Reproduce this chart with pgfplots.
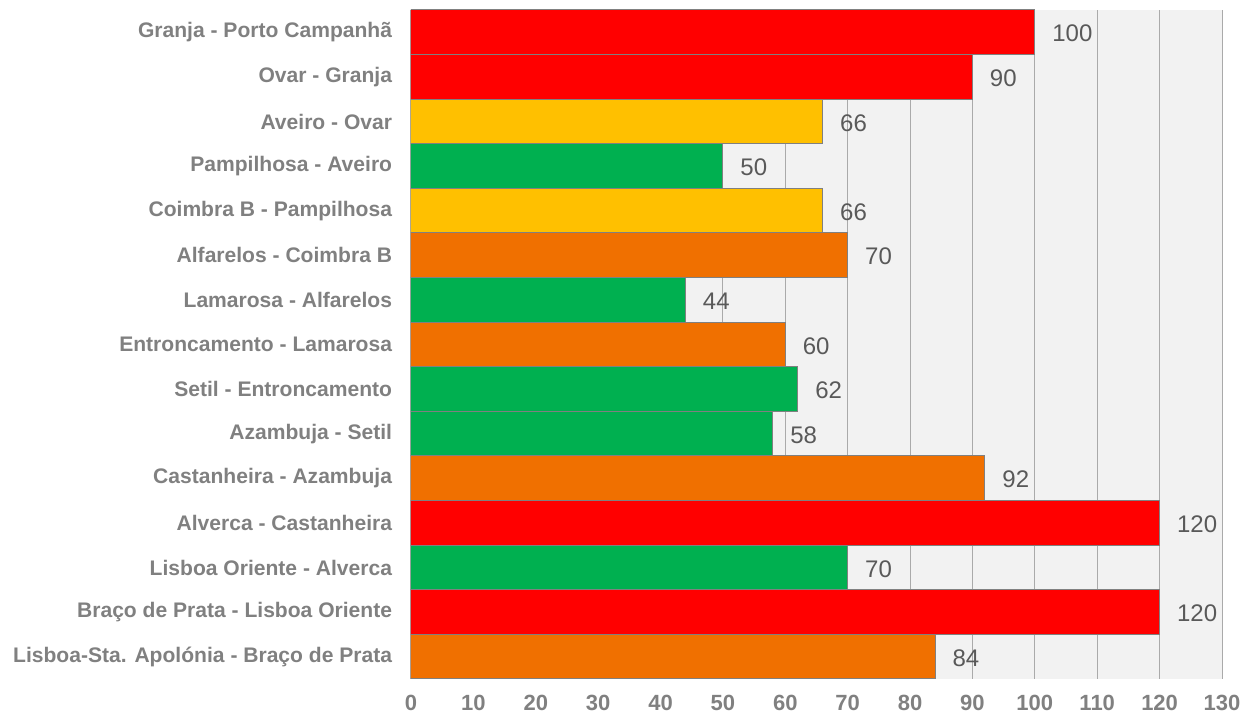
\documentclass[border=0pt]{standalone}
\usepackage{pgfplots}
\pgfplotsset{compat=1.18}
\usepackage{pgfplotstable}
\usepackage{fontspec}
\setmainfont{Liberation Sans}
\definecolor{cred}{RGB}{255,0,0}
\definecolor{cyellow}{RGB}{255,192,0}
\definecolor{cgreen}{RGB}{0,176,80}
\definecolor{corange}{RGB}{240,112,0}
\definecolor{cbg}{RGB}{242,242,242}
\definecolor{cgrid}{RGB}{170,170,170}
\definecolor{clab}{RGB}{128,128,128}
\definecolor{cval}{RGB}{89,89,89}
\definecolor{cedge}{RGB}{128,128,128}

\pgfplotstableread{
y x
14 100
13 90
3 120
1 120
}\redtab
\pgfplotstableread{
y x
12 66
10 66
}\yellowtab
\pgfplotstableread{
y x
11 50
8 44
6 62
5 58
2 70
}\greentab
\pgfplotstableread{
y x
9 70
7 60
4 92
0 84
}\orangetab

\begin{document}
\begin{tikzpicture}
\begin{axis}[
  scale only axis,
  width=608.25pt, height=501.75pt,
  xbar, bar width=1,
  xmin=0, xmax=130, ymin=-0.5, ymax=14.5,
  xtick={0,10,...,130},
  ytick={0,...,14},
  yticklabels={Lisboa-Sta. Apolónia - Braço de Prata, Braço de Prata - Lisboa Oriente, Lisboa Oriente - Alverca, Alverca - Castanheira, Castanheira - Azambuja, Azambuja - Setil, Setil - Entroncamento, Entroncamento - Lamarosa, Lamarosa - Alfarelos, Alfarelos - Coimbra B, Coimbra B - Pampilhosa, Pampilhosa - Aveiro, Aveiro - Ovar, Ovar - Granja, Granja - Porto Campanhã},
  major tick length=0pt,
  axis line style={draw=none},
  axis background/.style={fill=cbg},
  xmajorgrids, ymajorgrids=false,
  major grid style={cgrid, line width=0.75pt},
  xticklabel style={font=\fontsize{16.5}{19}\selectfont\bfseries, text=clab, inner sep=0pt, yshift=-12pt},
  yticklabel style={font=\fontsize{15.8}{18}\selectfont\bfseries, text=clab, inner sep=0pt, xshift=-14pt},
  /pgf/number format/assume math mode=true,
  nodes near coords,
  nodes near coords style={anchor=west, inner sep=0pt, xshift=12.75pt, yshift=-1pt, font=\fontsize{18}{20}\selectfont, text=cval},
  every axis plot/.append style={draw=cedge, line width=0.75pt, bar shift=0pt},
]
\addplot[fill=cred, draw=cedge, bar shift=0pt] table[x=x, y=y] {\redtab};
\addplot[fill=cyellow, draw=cedge, bar shift=0pt] table[x=x, y=y] {\yellowtab};
\addplot[fill=cgreen, draw=cedge, bar shift=0pt] table[x=x, y=y] {\greentab};
\addplot[fill=corange, draw=cedge, bar shift=0pt] table[x=x, y=y] {\orangetab};
\end{axis}
\pgfresetboundingbox
\path[use as bounding box] ([xshift=-308.25pt, yshift=-27.75pt]current axis.south west) rectangle ([xshift=20.25pt, yshift=7.5pt]current axis.north east);
\end{tikzpicture}
\end{document}
